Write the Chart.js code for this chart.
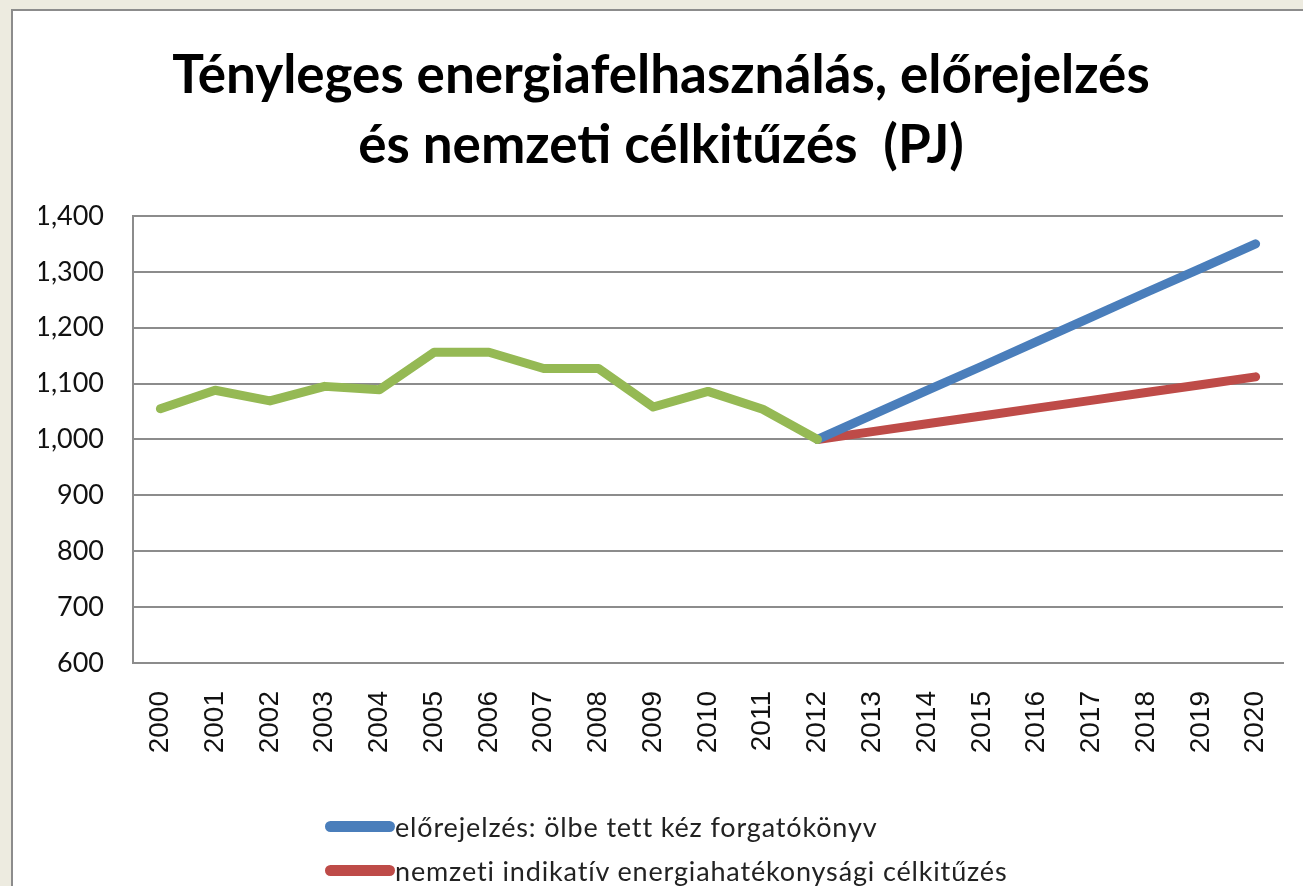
<!DOCTYPE html>
<html>
<head>
<meta charset="utf-8">
<script src="https://cdn.jsdelivr.net/npm/chart.js@4"></script>
<style>
  html, body { margin: 0; padding: 0; }
  body { width: 1303px; height: 886px; background: #edebe0; position: relative; overflow: hidden; }
  #panel { position: absolute; left: 11px; top: 9px; width: 1300px; height: 890px; background: #fff; border: 2px solid #8c8c8c; box-sizing: border-box; }
  #wrap { position: absolute; left: 13px; top: 11px; width: 1290px; height: 875px; }
  #legend { position: absolute; left: 325px; top: 804px; font-family: Lato, "Noto Sans", sans-serif; font-size: 27px; letter-spacing: 0.85px; color: #222; }
  #legend div { height: 44px; display: flex; align-items: center; }
  #legend span.ln { display: inline-block; width: 70px; height: 11px; border-radius: 6px; margin-right: 0; }
</style>
</head>
<body>
<div id="panel"></div>
<div id="wrap"><canvas id="chart"></canvas></div>
<div id="legend"></div>
<script>
// adatok
var years = ['2000','2001','2002','2003','2004','2005','2006','2007','2008','2009','2010',
             '2011','2012','2013','2014','2015','2016','2017','2018','2019','2020'];
var tenyleges = [1055, 1088, 1069, 1095, 1089, 1156, 1156, 1127, 1127, 1058, 1086, 1054, 1000,
                 null, null, null, null, null, null, null, null];
var elorejelzes = [null, null, null, null, null, null, null, null, null, null, null, null,
                   1000, 1044, 1088, 1131, 1175, 1219, 1263, 1306, 1350];
var celkituzes = [null, null, null, null, null, null, null, null, null, null, null, null,
                  1000, 1014, 1028, 1042, 1056, 1070, 1084, 1098, 1112];
var seriesNames = ['tényleges energiafelhasználás',
                   'előrejelzés: ölbe tett kéz forgatókönyv',
                   'nemzeti indikatív energiahatékonysági célkitűzés'];
var colors = ['#95b954', '#4a7ebb', '#be4b48'];

var ctx = document.getElementById('chart').getContext('2d');
ctx.canvas.width = 1290;
ctx.canvas.height = 875;

function ds(label, data, color) {
    return {
        label: label,
        data: data,
        borderColor: color,
        backgroundColor: color,
        borderWidth: 9,
        pointRadius: 0,
        borderCapStyle: 'round',
        borderJoinStyle: 'round',
        tension: 0,
        spanGaps: false
    };
}

var chart = new Chart(ctx, {
    type: 'line',
    data: {
        labels: years,
        datasets: [
            ds(seriesNames[0], tenyleges, colors[0]),
            ds(seriesNames[1], elorejelzes, colors[1]),
            ds(seriesNames[2], celkituzes, colors[2])
        ]
    },
    options: {
        responsive: false,
        animation: false,
        layout: { padding: { left: 26, right: 20, top: 0, bottom: 0 } },
        plugins: {
            legend: { display: false },
            tooltip: { enabled: false },
            title: {
                display: true,
                text: ['Tényleges energiafelhasználás, előrejelzés', 'és nemzeti célkitűzés  (PJ)'],
                color: '#000',
                font: { family: 'Lato, "Open Sans", sans-serif', size: 53, weight: 'bold', lineHeight: 1.32 },
                padding: { top: 30, bottom: 35 }
            }
        },
        scales: {
            x: {
                offset: true,
                grid: { display: false, drawTicks: false },
                border: { display: true, color: '#8c8c8c', width: 2 },
                ticks: {
                    color: '#111',
                    font: { family: '"Liberation Sans", Arial, sans-serif', size: 28 },
                    minRotation: 90, maxRotation: 90,
                    padding: 28,
                    autoSkip: false
                },
                afterFit: function(scale) {
                    scale.height = 223;
                    scale.paddingLeft = 0;
                    scale.paddingRight = 0;
                }
            },
            y: {
                min: 600,
                max: 1400,
                grid: { color: '#8c8c8c', lineWidth: 2, drawTicks: false },
                border: { display: true, color: '#8c8c8c', width: 2 },
                ticks: {
                    stepSize: 100,
                    color: '#111',
                    padding: 29,
                    font: { family: 'Lato, "Open Sans", sans-serif', size: 27 },
                    callback: function(value) { return value.toLocaleString('en-US'); }
                },
                afterFit: function(scale) { scale.width = 94; }
            }
        }
    }
});

// jelmagyarázat (csak a látható két sor)
var legend = document.getElementById('legend');
[1, 2].forEach(function(i) {
    var row = document.createElement('div');
    var ln = document.createElement('span');
    ln.className = 'ln';
    ln.style.background = colors[i];
    row.appendChild(ln);
    row.appendChild(document.createTextNode(seriesNames[i]));
    legend.appendChild(row);
});
</script>
</body>
</html>
